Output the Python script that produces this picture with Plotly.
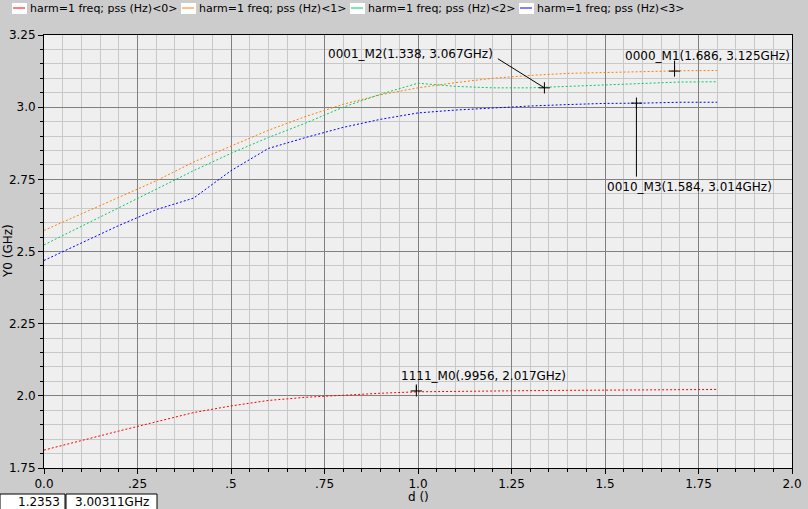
import plotly.graph_objects as go

# ---- data ----
d_values = [0.0, 0.1, 0.2, 0.3, 0.4, 0.5, 0.6, 0.7, 0.8, 0.9, 1.0,
            1.1, 1.2, 1.3, 1.4, 1.5, 1.6, 1.7, 1.8]
series_names = ["harm=1 freq; pss (Hz)<0>", "harm=1 freq; pss (Hz)<1>",
                "harm=1 freq; pss (Hz)<2>", "harm=1 freq; pss (Hz)<3>"]
y0_red = [1.812, 1.846, 1.878, 1.910, 1.942, 1.965, 1.984, 1.995, 2.003, 2.009,
          2.014, 2.016, 2.017, 2.018, 2.019, 2.020, 2.021, 2.021, 2.022]
y1_orange = [2.573, 2.630, 2.687, 2.745, 2.810, 2.865, 2.920, 2.968, 3.010, 3.043,
             3.067, 3.085, 3.100, 3.110, 3.117, 3.120, 3.124, 3.126, 3.127]
y2_green = [2.523, 2.587, 2.650, 2.715, 2.780, 2.840, 2.895, 2.945, 3.000, 3.045,
            3.083, 3.072, 3.067, 3.067, 3.072, 3.077, 3.083, 3.087, 3.088]
y3_blue = [2.469, 2.530, 2.590, 2.645, 2.685, 2.780, 2.857, 2.895, 2.930, 2.958,
           2.980, 2.990, 2.998, 3.004, 3.009, 3.013, 3.014, 3.017, 3.017]
series_values = [y0_red, y1_orange, y2_green, y3_blue]
series_colors = ["#ff0000", "#ff8000", "#00cc66", "#0000ff"]

marker_x = [0.9956, 1.686, 1.338, 1.584]
marker_y = [2.017, 3.125, 3.067, 3.014]
marker_labels = ["1111_M0(.9956, 2.017GHz)", "0000_M1(1.686, 3.125GHz)",
                 "0001_M2(1.338, 3.067GHz)", "0010_M3(1.584, 3.014GHz)"]

x_tickvals = [0.0, 0.25, 0.5, 0.75, 1.0, 1.25, 1.5, 1.75, 2.0]
x_ticktext = ["0.0", ".25", ".5", ".75", "1.0", "1.25", "1.5", "1.75", "2.0"]
y_tickvals = [1.75, 2.0, 2.25, 2.5, 2.75, 3.0, 3.25]
y_ticktext = ["1.75", "2.0", "2.25", "2.5", "2.75", "3.0", "3.25"]

x_title = "d ()"
y_title = "Y0 (GHz)"
cursor_x_text = "1.2353"
cursor_y_text = "3.00311GHz"

FONT = "DejaVu Sans"

L, R, T, B = 44, 16, 35, 41
W, H = 808 - L - R, 509 - T - B
def px(x):
    return (x - L) / W
def py(y):
    return (509 - B - y) / H

fig = go.Figure()
for name, vals, col in zip(series_names, series_values, series_colors):
    fig.add_trace(go.Scatter(x=d_values, y=vals, mode="lines", name=name, showlegend=False,
                             line=dict(color=col, width=1, dash="2px,2px")))

fig.add_trace(go.Scatter(x=marker_x, y=marker_y, mode="markers", showlegend=False,
                         marker=dict(symbol="cross-thin", size=8,
                                     line=dict(color="black", width=1))))

# custom legend (pixel layout)
legend_left = [12, 181, 350, 519]
for name, col, lx in zip(series_names, series_colors, legend_left):
    fig.add_shape(type="rect", xref="paper", yref="paper", x0=px(lx), x1=px(lx + 15),
                  y0=py(14), y1=py(3), fillcolor="white", line=dict(width=0))
    fig.add_shape(type="line", xref="paper", yref="paper", x0=px(lx + 1), x1=px(lx + 13),
                  y0=py(8), y1=py(8), line=dict(color=col, width=1))
    fig.add_annotation(xref="paper", yref="paper", x=px(lx + 16), y=py(8.5), text=name,
                       showarrow=False, xanchor="left", yanchor="middle",
                       font=dict(family=FONT, size=11, color="black"))

# connector lines (pixel offsets) and label placement
conn = [(0, -8), (0, -12), (-48, -30), (0, 75)]
label_shift = [(-17, 15), (-52, 15), (-218, 34), (-31, -84)]
for mx, my, lab, (ax, ay), (xs, ys) in zip(marker_x, marker_y, marker_labels, conn, label_shift):
    fig.add_annotation(x=mx, y=my, xref="x", yref="y", text="", showarrow=True,
                       arrowhead=0, arrowwidth=1, arrowcolor="black",
                       ax=ax, ay=ay, axref="pixel", ayref="pixel")
    fig.add_annotation(x=mx, y=my, xref="x", yref="y", text=lab, showarrow=False,
                       xanchor="left", yanchor="middle", xshift=xs, yshift=ys,
                       font=dict(family=FONT, size=12, color="black"))

# axis titles
fig.add_annotation(xref="paper", yref="paper", x=px(418), y=py(497), text=x_title,
                   showarrow=False, xanchor="center", yanchor="middle",
                   font=dict(family=FONT, size=12, color="black"))
fig.add_annotation(xref="paper", yref="paper", x=px(8), y=py(251), text=y_title,
                   showarrow=False, textangle=-90, xanchor="center", yanchor="middle",
                   font=dict(family=FONT, size=12, color="black"))

# bottom cursor readout boxes
fig.add_shape(type="rect", xref="paper", yref="paper", x0=px(0), x1=px(65),
              y0=py(510), y1=py(494), fillcolor="white", line=dict(color="black", width=1))
fig.add_shape(type="rect", xref="paper", yref="paper", x0=px(66), x1=px(157),
              y0=py(510), y1=py(494), fillcolor="white", line=dict(color="black", width=1))
fig.add_annotation(xref="paper", yref="paper", x=px(62), y=py(502), text=cursor_x_text,
                   showarrow=False, xanchor="right", yanchor="middle",
                   font=dict(family=FONT, size=12, color="black"))
fig.add_annotation(xref="paper", yref="paper", x=px(73), y=py(502), text=cursor_y_text,
                   showarrow=False, xanchor="left", yanchor="middle",
                   font=dict(family=FONT, size=12, color="black"))

axis_common = dict(showline=True, linecolor="black", linewidth=1, mirror=True,
                   ticks="outside", ticklen=5, tickcolor="black", automargin=False,
                   showgrid=True, gridcolor="#808080", gridwidth=1, zeroline=False,
                   tickfont=dict(family=FONT, size=12, color="black"))

fig.update_xaxes(range=[0, 2.0], tickvals=x_tickvals, ticktext=x_ticktext,
                 minor=dict(dtick=0.05, tick0=0, showgrid=True, gridcolor="#c8c8c8",
                            ticks="outside", ticklen=3, tickcolor="black"),
                 **axis_common)
fig.update_yaxes(range=[1.75, 3.25], tickvals=y_tickvals, ticktext=y_ticktext,
                 minor=dict(dtick=0.05, tick0=0, showgrid=True, gridcolor="#c8c8c8",
                            ticks="outside", ticklen=3, tickcolor="black"),
                 **axis_common)

fig.update_layout(
    width=808, height=509,
    margin=dict(l=L, r=R, t=T, b=B, pad=0, autoexpand=False),
    paper_bgcolor="#cccccc", plot_bgcolor="#efefef",
    font=dict(family=FONT, size=12, color="black"),
    showlegend=False,
)

fig.write_html("out.html", config={"displayModeBar": False},
               post_script="document.body.style.margin='0px';document.body.style.overflow='hidden';")
